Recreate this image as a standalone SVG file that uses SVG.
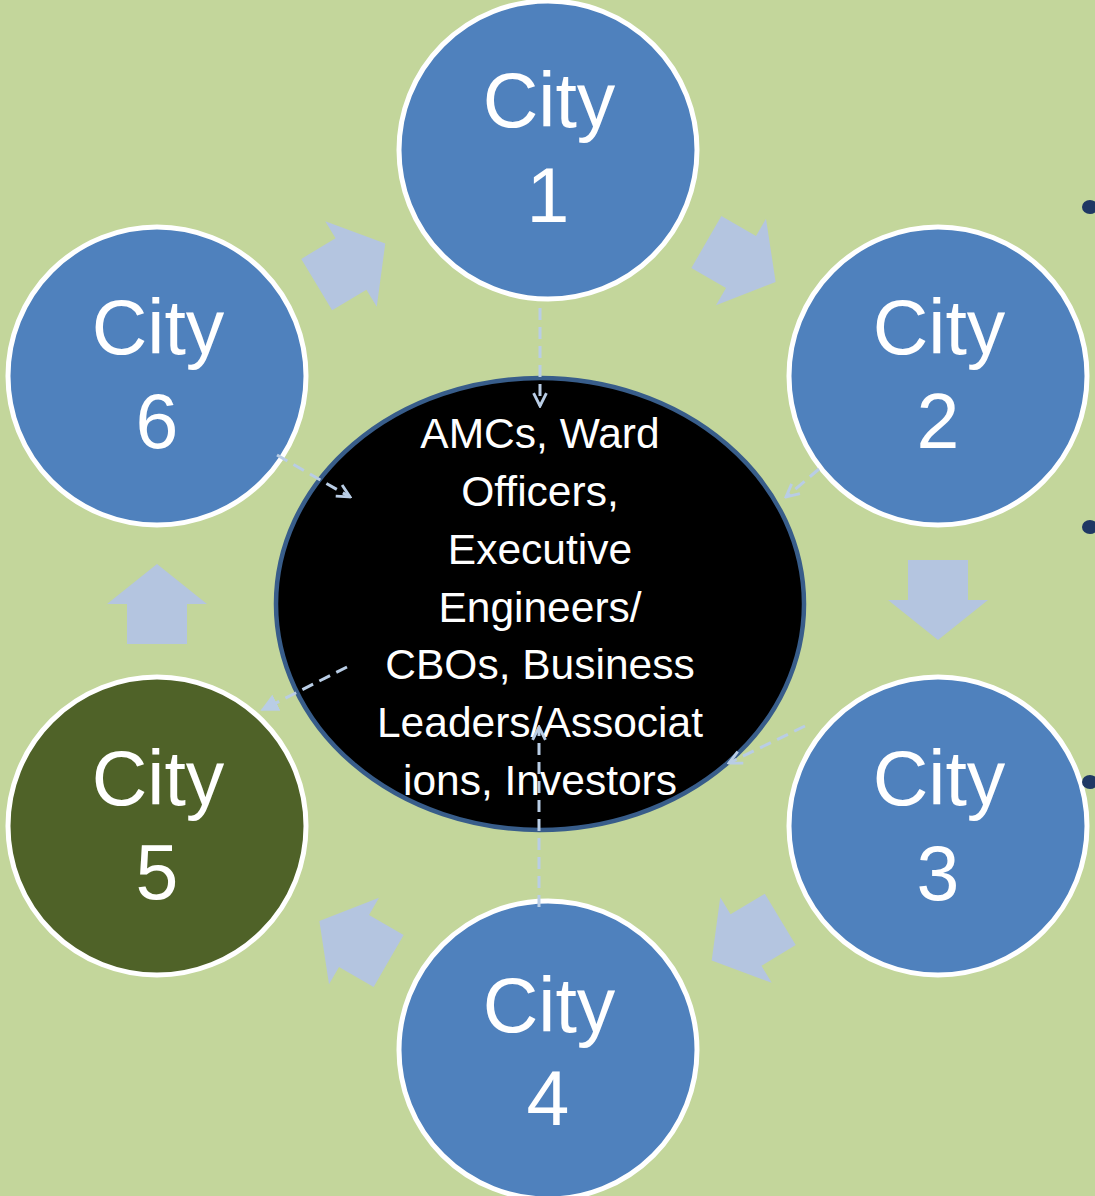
<svg xmlns="http://www.w3.org/2000/svg" width="1095" height="1196" viewBox="0 0 1095 1196">
<style>
.city{fill:#4F81BD;stroke:#FFFFFF;stroke-width:5}
.city5{fill:#4F6228}
.ctext{font-family:"Liberation Sans",Arial,sans-serif;font-size:77px;fill:#FFFFFF;text-anchor:middle}
.mtext{font-family:"Liberation Sans",Arial,sans-serif;font-size:42.5px;fill:#FFFFFF;text-anchor:middle}
.blk{fill:#B4C5E0}
.dash{fill:none;stroke:#B9CDE5;stroke-width:3;stroke-dasharray:12 7}
.bul{fill:#1F3864}
</style>
<defs>
<polygon id="barrow" points="-40,-30 0,-30 0,-50 40,0 0,50 0,30 -40,30"/>
<marker id="open" viewBox="0 0 10 10" refX="9" refY="5" markerWidth="16" markerHeight="16" markerUnits="userSpaceOnUse" orient="auto">
<path d="M1,1 L9,5 L1,9" fill="none" stroke="#B9CDE5" stroke-width="1.8" stroke-dasharray="none"/>
</marker>
<marker id="solid" viewBox="0 0 10 10" refX="9" refY="5" markerWidth="18" markerHeight="18" markerUnits="userSpaceOnUse" orient="auto">
<path d="M0,0 L10,5 L0,10 Z" fill="#B9CDE5" stroke="none"/>
</marker>
</defs>
<rect x="0" y="0" width="1095" height="1196" fill="#C3D69B"/>

<g id="center">
<ellipse cx="540" cy="604" rx="264" ry="226" fill="#000000" stroke="#385D8A" stroke-width="4.5"/>
<text class="mtext" x="540" y="448">AMCs, Ward</text>
<text class="mtext" x="540" y="506">Officers,</text>
<text class="mtext" x="540" y="564">Executive</text>
<text class="mtext" x="540" y="622">Engineers/</text>
<text class="mtext" x="540" y="679">CBOs, Business</text>
<text class="mtext" x="540" y="737">Leaders/Associat</text>
<text class="mtext" x="540" y="795">ions, Investors</text>
</g>

<g id="city1">
<circle class="city" cx="548" cy="150" r="149"/>
<text class="ctext" x="549" y="127">City</text>
<text class="ctext" x="548" y="222">1</text>
</g>
<g id="city2">
<circle class="city" cx="938" cy="376" r="149"/>
<text class="ctext" x="939" y="354">City</text>
<text class="ctext" x="938" y="448">2</text>
</g>
<g id="city3">
<circle class="city" cx="938" cy="826" r="149"/>
<text class="ctext" x="939" y="805">City</text>
<text class="ctext" x="938" y="900">3</text>
</g>
<g id="city4">
<circle class="city" cx="548" cy="1050" r="149"/>
<text class="ctext" x="549" y="1032">City</text>
<text class="ctext" x="548" y="1125">4</text>
</g>
<g id="city5">
<circle class="city city5" cx="157" cy="826" r="149"/>
<text class="ctext" x="158" y="805">City</text>
<text class="ctext" x="157" y="899">5</text>
</g>
<g id="city6">
<circle class="city" cx="157" cy="376" r="149"/>
<text class="ctext" x="158" y="354">City</text>
<text class="ctext" x="157" y="448">6</text>
</g>

<g id="connectors">
<g id="cycle-arrows" class="blk">
<use href="#barrow" transform="translate(741,262) rotate(30)"/>
<use href="#barrow" transform="translate(938,600) rotate(90)"/>
<use href="#barrow" transform="translate(746,940) rotate(149)"/>
<use href="#barrow" transform="translate(354,941) rotate(-150)"/>
<use href="#barrow" transform="translate(157,604) rotate(-90)"/>
<use href="#barrow" transform="translate(351,264) rotate(-31)"/>
</g>
<g id="links">
<path class="dash" d="M540,308 L540,406" marker-end="url(#open)"/>
<path class="dash" d="M819,469 L786,497" marker-end="url(#open)"/>
<path class="dash" d="M805,726 L729,763" marker-end="url(#open)"/>
<path class="dash" d="M539,907 L539,727" marker-end="url(#open)"/>
<path class="dash" d="M347,667 L262,710" marker-end="url(#solid)"/>
<path class="dash" d="M277,455 L350,497" marker-end="url(#open)"/>
</g>
</g>

<g id="bullets">
<ellipse class="bul" cx="1090" cy="207" rx="8" ry="7"/>
<ellipse class="bul" cx="1090" cy="527" rx="8" ry="7"/>
<ellipse class="bul" cx="1090" cy="782" rx="8" ry="7"/>
</g>
</svg>
